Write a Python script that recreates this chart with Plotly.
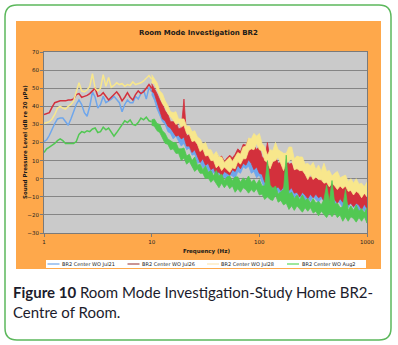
import plotly.graph_objects as go

# ---------------------------------------------------------------------------
# Frequency grid: 40 log-spaced steps per decade, 1 Hz .. 1 kHz
# ---------------------------------------------------------------------------
MANTISSA = [1.000, 1.059, 1.122, 1.189, 1.259, 1.334, 1.413, 1.496, 1.585, 1.679,
            1.778, 1.884, 1.995, 2.113, 2.239, 2.371, 2.512, 2.661, 2.818, 2.985,
            3.162, 3.350, 3.548, 3.758, 3.981, 4.217, 4.467, 4.732, 5.012, 5.309,
            5.623, 5.957, 6.310, 6.683, 7.079, 7.499, 7.943, 8.414, 8.913, 9.441]
FREQ = [round(m * 10 ** d, 3) for d in range(3) for m in MANTISSA] + [1000.0]
FREQ_LOW = FREQ[:41]    # 1-10 Hz: single trace
FREQ_HIGH = FREQ[40:]   # 10-1000 Hz: spread between max and min level

X_TICKS = [1, 10, 100, 1000]
X_TICK_TEXT = ["1", "10", "100", "1000"]
Y_TICKS = [70, 60, 50, 40, 30, 20, 10, 0, -10, -20, -30]

SERIES_NAMES = ["BR2 Center WO Jul21", "BR2 Center WO Jul26",
                "BR2 Center WO Jul28", "BR2 Center WO Aug2"]

# Sound pressure level (dB re 20 uPa), 1-10 Hz
JUL21_LOW = [20.5, 21.5, 24, 27.5, 30.5, 33, 33.5, 33.5, 31.5, 29.5,
             33, 37, 41, 43.5, 41, 36.5, 34.5, 40, 48, 45,
             39, 41, 45.5, 42, 43, 44, 45.5, 43.5, 42, 37,
             41, 43.5, 42, 42, 45.5, 44, 47, 49, 44, 50.5, 48]
JUL26_LOW = [35.5, 36, 36.5, 39.5, 42, 42.5, 43, 43, 43, 43.5,
             43.5, 44, 46.5, 47, 45, 45.5, 46, 47, 48.5, 50,
             45.5, 46, 47.5, 45.5, 43.5, 45, 46.5, 48, 46, 43,
             45, 47.5, 45, 43.5, 46.5, 48.5, 47, 48, 50, 52, 50]
JUL28_LOW = [30.5, 31, 31.5, 33, 35.5, 39, 40, 39, 38.5, 40,
             41, 43, 48.5, 53, 48.5, 48, 49, 51, 58, 50,
             48.5, 50, 57.5, 51, 56, 50.5, 51.5, 53, 52, 52.5,
             51, 52, 51.5, 53.5, 52, 52.5, 53, 54, 55.5, 57, 55]
AUG2_LOW = [14.5, 16.5, 17.5, 18.5, 19.5, 21, 22, 21, 19.5, 19.5,
            19.5, 19.5, 20.5, 24.5, 26, 25.5, 26.5, 26, 27.5, 28,
            25.5, 26, 28.5, 27, 28, 26, 23.5, 25.5, 27.5, 30,
            32, 31, 32.5, 30, 29.5, 31, 33.5, 32.5, 34, 32, 31.5]

# Upper / lower level of each series, 10-1000 Hz
JUL21_HI = [50, 48, 45, 41, 38, 35, 32.5, 30.5, 29, 28,
            26.5, 25.5, 24.5, 23, 21.5, 20, 19, 17.5, 16, 15,
            14, 12.5, 11.5, 11, 10, 10, 9.5, 9.5, 9, 9.5,
            10, 11, 12.5, 14, 15.5, 16.5, 17, 16.5, 15, 14.5,
            13.5, 10.5, 8, 6.5, 6, 7, 8, 7.5, 6, 6.5,
            7, 5, 4, 3, 2.5, 2, 1, 0.5, 0, -0.5,
            -1, -1.5, -2, -2.5, -2.5, -3, -3.5, -4, -4.5, -5,
            -5.5, -6, -6.5, -7, -7.5, -8, -8.5, -9, -9.5, -10, -10.5]
JUL21_LO = [46.5, 43.5, 38.5, 35, 31.5, 30, 26, 25, 22, 23.5,
            21, 18, 19.5, 16, 17, 13, 13.5, 8.5, 9, 6,
            7, 4.5, 1.5, 3.5, 1, 3, -0.5, 1, -1, 2,
            1.5, 0, 4, 3, 6.5, 5.5, 7, 3, 4, 0.5,
            2, -2, -5.5, -4.5, -7.5, -5, -7.5, -7, -10, -5.5,
            -7, -10, -8, -10.5, -8.5, -10.5, -9.5, -12.5, -10.5, -12.5,
            -10, -11.5, -13, -11, -12.5, -10.5, -13.5, -12.5, -14.5, -12.5,
            -13.5, -16, -13.5, -16, -13.5, -16, -14.5, -18, -15.5, -18, -15.5]
JUL26_HI = [52.5, 50, 47, 43.5, 41, 37.5, 35.5, 31.5, 31.5, 31.5,
            27.5, 28, 44, 23.5, 24.5, 21, 23, 18.5, 19, 15.5,
            17.5, 13.5, 14, 11.5, 14, 11.5, 12.5, 9.5, 11.5, 13,
            11.5, 13.5, 16.5, 15, 19, 18.5, 22, 18.5, 18.5, 16,
            18, 12, 11, 20, 10.5, 9, 12, 8.5, 9, 11.5,
            10.5, 8, 8.5, 4.5, 6.5, 4, 6, 2, 3, 0.5,
            3, 0, 1, -1.5, 2, -1, 0, -3.5, -1.5, -1,
            -4, -3.5, -2.5, -6, -4, -6.5, -4, -7.5, -6.5, -9, -6.5]
JUL26_LO = [48.5, 47, 42.5, 37.5, 33, 32, 29, 28, 26, 23.5,
            24, 22, 23, 18, 18, 14.5, 16, 13, 9, 11,
            7.5, 8.5, 5, 6, 2, 4, 1.5, 4, 3, 2,
            5, 4, 7.5, 5.5, 8.5, 7.5, 10.5, 8.5, 5, 6.5,
            3, 2.5, -2, -2, -6.5, -4.5, -5.5, -4.5, -6.5, -4.5,
            -3, -6.5, -5, -8, -7.5, -10, -7.5, -9, -11, -8.5,
            -10.5, -8.5, -10.5, -9.5, -12.5, -10.5, -12.5, -10.5, -11.5, -13.5,
            -11, -13, -11, -14.5, -13.5, -15.5, -13.5, -14.5, -17, -14, -16.5]
JUL28_HI = [57.5, 55, 53, 48.5, 47, 43, 40.5, 37, 36.5, 37,
            33, 33, 33, 29, 29, 26, 26.5, 23, 22, 19,
            20, 16, 16, 13, 15, 12, 12, 9, 10.5, 12,
            9.5, 12, 14.5, 13.5, 17.5, 18, 22.5, 22, 25, 23.5,
            25, 19.5, 17.5, 13, 16, 15.5, 20, 16, 15, 14,
            14, 17.5, 17.5, 11, 12.5, 12, 12, 8, 8.5, 7,
            9, 5, 7.5, 4, 8.5, 4, 4.5, 1.5, 3, 4,
            0.5, 1.5, 2, -1.5, 0, -2.5, 0, -3, -2.5, -4.5, -2]
JUL28_LO = [53, 52.5, 49.5, 46, 41.5, 39.5, 36, 34.5, 32.5, 30,
            31, 28.5, 29.5, 25, 24.5, 20.5, 21, 19, 15, 16.5,
            12.5, 13, 10, 10, 6, 7.5, 4.5, 6.5, 5, 3.5,
            6, 5.5, 9.5, 8, 11, 11, 15.5, 16.5, 16, 19.5,
            16, 15.5, 10, 9, 5.5, 9.5, 10, 12, 8, 4.5,
            8.5, 9.5, 11, 5, 5.5, 4.5, 4.5, 2.5, -0.5, 2.5,
            -0.5, 1, -0.5, -0.5, -2.5, -2, -4.5, -2.5, -4, -6,
            -4, -5.5, -4, -7, -6.5, -9, -7, -8, -10.5, -8, -10]
AUG2_HI = [32.5, 33, 30.5, 30, 26.5, 25, 22, 21, 20, 20,
           16.5, 16.5, 17, 12.5, 13.5, 10, 12, 7.5, 8, 5,
           7, 3.5, 4.5, 1.5, 4.5, 1.5, 2.5, -1, 1, 1.5,
           -1, 1, 1, -2, 0.5, -1, 1.5, -2, -0.5, -3,
           -0.5, -4, -4, 10, -3.5, -5.5, -4, -8.5, -7, -6,
           13, -8.5, -7.5, -11, -9, -11.5, -9, -12, -11, -13.5,
           -11, -13.5, -12.5, -14.5, -11.5, -3.5, -13, -1, -14, -13.5,
           -16, -15.5, -6, -17.5, -15, -17.5, -14.5, -18, -16.5, -19, -16]
AUG2_LO = [29.5, 29, 26.5, 25.5, 23, 19.5, 19, 16, 16.5, 14,
           14, 10, 11.5, 8, 9.5, 7, 4, 5.5, 3, 3,
           0, 0.5, -2, -0.5, -2.5, -5, -2.5, -5, -3, -5.5,
           -4, -7.5, -5.5, -7.5, -5, -6, -8, -6, -7.5, -5.5,
           -9, -8.5, -11.5, -10, -11.5, -12, -9, -13, -12, -14.5,
           -13.5, -17, -15, -17.5, -15, -16.5, -18.5, -16, -18, -16,
           -19, -18, -20.5, -18, -19.5, -21.5, -19, -21, -19, -21.5,
           -20, -23.5, -21, -23.5, -21, -22, -24, -21.5, -23.5, -21, -24.5]

SERIES = [
    (SERIES_NAMES[0], JUL21_LOW, JUL21_HI, JUL21_LO, "#6ea6ec", "#a9c9f1"),
    (SERIES_NAMES[1], JUL26_LOW, JUL26_HI, JUL26_LO, "#d3303c", "#c99494"),
    (SERIES_NAMES[2], JUL28_LOW, JUL28_HI, JUL28_LO, "#f8e78c", "#fdf0d2"),
    (SERIES_NAMES[3], AUG2_LOW, AUG2_HI, AUG2_LO, "#52c853", "#9de79d"),
]

# ---------------------------------------------------------------------------
# Page geometry (pixels) and helpers converting to paper coordinates
# ---------------------------------------------------------------------------
W, H = 398, 345
ML, MR, MT, MB = 44, 31, 52, 112
PW, PH = W - ML - MR, H - MT - MB


def px(x):
    return (x - ML) / PW


def py(y):
    return (MT + PH - y) / PH


fig = go.Figure()

for name, low, hi, lo, color, _ in SERIES:
    fig.add_trace(go.Scatter(
        x=FREQ_LOW, y=low, mode="lines", name=name,
        line=dict(color=color, width=1.5), showlegend=False, hoverinfo="skip"))
    fig.add_trace(go.Scatter(
        x=FREQ_HIGH + FREQ_HIGH[::-1], y=hi + lo[::-1], mode="lines",
        fill="toself", fillcolor=color, name=name,
        line=dict(color=color, width=0.8), showlegend=False, hoverinfo="skip"))

# Rounded card border around chart and caption
bx0, bx1, by0, by1, r = 5, 391, 5, 340, 12
border = (f"M {px(bx0 + r)},{py(by0)} L {px(bx1 - r)},{py(by0)} "
          f"Q {px(bx1)},{py(by0)} {px(bx1)},{py(by0 + r)} "
          f"L {px(bx1)},{py(by1 - r)} Q {px(bx1)},{py(by1)} {px(bx1 - r)},{py(by1)} "
          f"L {px(bx0 + r)},{py(by1)} Q {px(bx0)},{py(by1)} {px(bx0)},{py(by1 - r)} "
          f"L {px(bx0)},{py(by0 + r)} Q {px(bx0)},{py(by0)} {px(bx0 + r)},{py(by0)} Z")

shapes = [
    dict(type="rect", xref="paper", yref="paper", layer="below",
         x0=px(16), x1=px(381), y0=py(269), y1=py(21),
         fillcolor="#fea84b", line=dict(width=0)),
    dict(type="rect", xref="paper", yref="paper", layer="below",
         x0=0, x1=1, y0=0, y1=1, fillcolor="#cacaca", line=dict(width=0)),
    dict(type="path", xref="paper", yref="paper", path=border,
         line=dict(color="#5cb85c", width=1.5)),
    # legend box
    dict(type="rect", xref="paper", yref="paper",
         x0=px(46), x1=px(366), y0=py(268), y1=py(260),
         fillcolor="white", line=dict(width=0)),
]

annotations = [
    dict(text="<b>Room Mode Investigation BR2</b>", xref="paper", yref="paper",
         x=px(198), y=py(32.5), xanchor="center", yanchor="middle", showarrow=False,
         font=dict(family="DejaVu Sans", size=7, color="#1a1a1a")),
    dict(text="<b>Frequency (Hz)</b>", xref="paper", yref="paper",
         x=px(206), y=py(251), xanchor="center", yanchor="middle", showarrow=False,
         font=dict(family="DejaVu Sans", size=5.5, color="#1a1a1a")),
    dict(text="<b>Sound Pressure Level (dB re 20 μPa)</b>", xref="paper", yref="paper",
         x=px(25), y=py(142), xanchor="center", yanchor="middle", textangle=-90,
         showarrow=False, font=dict(family="DejaVu Sans", size=5.5, color="#1a1a1a")),
    dict(text="<b>Figure 10</b> Room Mode Investigation-Study Home BR2-<br>Centre of Room.",
         xref="paper", yref="paper", x=px(11), y=py(301.5), xanchor="left",
         yanchor="middle", align="left", showarrow=False,
         font=dict(family="Lato", size=15, color="#1c1c2c")),
]

# Legend entries: sample line + label
legend_x = [47.5, 127.5, 207, 287]
for (name, _, _, _, _, lcolor), lx in zip(SERIES, legend_x):
    shapes.append(dict(type="line", xref="paper", yref="paper",
                       x0=px(lx), x1=px(lx + 12), y0=py(264), y1=py(264),
                       line=dict(color=lcolor, width=2)))
    annotations.append(dict(text=name, xref="paper", yref="paper",
                            x=px(lx + 12.5), y=py(264), xanchor="left", yanchor="middle",
                            showarrow=False,
                            font=dict(family="DejaVu Sans", size=5, color="#222")))

fig.update_layout(
    width=W, height=H,
    margin=dict(l=ML, r=MR, t=MT, b=MB, pad=0),
    paper_bgcolor="white",
    plot_bgcolor="rgba(0,0,0,0)",
    showlegend=False,
    shapes=shapes,
    annotations=annotations,
    xaxis=dict(type="log", range=[0, 3], tickvals=X_TICKS, ticktext=X_TICK_TEXT,
               showgrid=False, zeroline=False, showline=True, linecolor="#7a7a7a",
               linewidth=1, mirror=True, ticks="outside", ticklen=3, tickcolor="#7a7a7a",
               tickfont=dict(family="DejaVu Sans", size=5.5, color="#222")),
    yaxis=dict(range=[-30, 70], tickvals=Y_TICKS, showgrid=True, gridcolor="#858585",
               gridwidth=1, zeroline=False, showline=True, linecolor="#7a7a7a",
               linewidth=1, mirror=True, ticks="outside", ticklen=3, tickcolor="#7a7a7a",
               tickfont=dict(family="DejaVu Sans", size=5.5, color="#222")),
)

fig.write_html("out.html")
